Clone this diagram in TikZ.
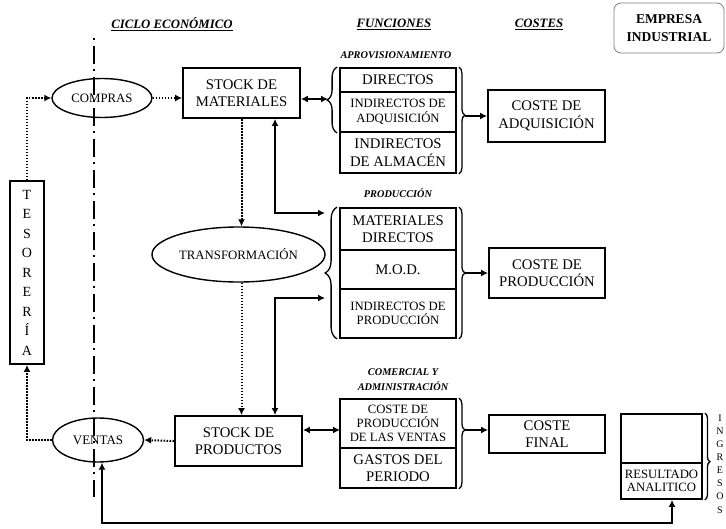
\documentclass[tikz,border=0pt]{standalone}
\usepackage{fontspec}
\setmainfont{Liberation Serif}
\usetikzlibrary{shapes.geometric,arrows.meta,decorations.pathreplacing,calc}
\begin{document}
\begin{tikzpicture}[x=1pt,y=-1pt,
  big/.style={font=\fontsize{14.7}{17.5}\selectfont},
  sml/.style={font=\fontsize{12.7}{14.5}\selectfont},
  bx/.style={draw,line width=1.8pt,align=center,inner sep=1pt},
  col/.style={bx,minimum width=116pt},
  ell/.style={ellipse,draw,line width=1.4pt,inner sep=0pt,font=\fontsize{12.8}{14}\selectfont},
  hd/.style={font=\fontsize{12.8}{14}\selectfont\bfseries\itshape},
  sub/.style={font=\fontsize{10.3}{15}\selectfont\bfseries\itshape,align=center},
  tip/.style={-{Latex[length=7pt,width=7pt]}},
  dtip/.style={{Latex[length=7pt,width=7pt]}-{Latex[length=7pt,width=7pt]}},
  dotl/.style={line width=2pt,dash pattern=on 1.6pt off 1.4pt},
  sol/.style={line width=1.6pt},
  br/.style={decorate,decoration={brace,amplitude=#1},line width=1.3pt},
  br/.default=6pt,
]
\useasboundingbox (0,0) rectangle (726,528);

% headings
\node[hd] (t1) at (172,24) {\underline{CICLO ECONÓMICO}};
\node[hd] (t2) at (394,24) {\underline{FUNCIONES}};
\node[hd] (t3) at (539,24) {\underline{COSTES}};
\node[draw=gray,rounded corners=7pt,line width=0.8pt,minimum width=110pt,minimum height=50pt,
      align=center,font=\fontsize{13.5}{18}\selectfont\bfseries] (emp) at (669,28) {EMPRESA\\INDUSTRIAL};

% axis
\coordinate (axt) at (94,38);
\coordinate (axb) at (94,497);
\draw[line width=1.5pt,dash pattern=on 2pt off 6pt on 18pt off 5pt] (axt) -- (axb);

% cycle
\node[ell,minimum width=100pt,minimum height=39pt] (compras) at (102,98) {COMPRAS};
\node[bx,big,minimum width=117pt,minimum height=50pt] (smat) at (241.5,93) {STOCK DE\\MATERIALES};
\node[bx,minimum width=34pt,minimum height=183pt,font=\fontsize{14}{19.5}\selectfont] (tes) at (27,272.5)
  {T\\E\\S\\O\\R\\E\\R\\Í\\A};
\node[ell,minimum width=173pt,minimum height=55pt] (transf) at (238.5,254.5) {TRANSFORMACIÓN};
\node[ell,minimum width=91pt,minimum height=44pt,font=\fontsize{13}{14}\selectfont] (ventas) at (98,440) {VENTAS};
\node[bx,big,minimum width=127pt,minimum height=50pt] (sprod) at (238.5,441) {STOCK DE\\PRODUCTOS};

% aprovisionamiento
\node[sub] (lap) at (396,55) {APROVISIONAMIENTO};
\node[col,big,minimum height=24pt] (a1) at (398,80) {DIRECTOS};
\node[col,sml,minimum height=40pt] (a2) at (398,112) {INDIRECTOS DE\\ADQUISICIÓN};
\node[col,big,minimum height=41pt] (a3) at (398,152.5) {INDIRECTOS\\DE ALMACÉN};
\draw[br=10pt] ([xshift=-2pt]a2.south west) -- ([xshift=-2pt]a1.north west);
\draw[br=6pt,decoration={aspect=0.45}] ([xshift=2pt]a1.north east) -- ([xshift=2pt]a3.south east);
\coordinate (aL) at (328,99);
\coordinate (aR) at (465,116);
\node[bx,big,minimum width=117pt,minimum height=52pt] (cadq) at (546.5,116) {COSTE DE\\ADQUISICIÓN};

% produccion
\node[sub] (lpr) at (398,193) {PRODUCCIÓN};
\node[col,big,minimum height=42pt] (p1) at (398,229) {MATERIALES\\DIRECTOS};
\node[col,big,minimum height=39pt] (p2) at (398,269.5) {M.O.D.};
\node[col,sml,minimum height=49pt] (p3) at (398,313.5) {INDIRECTOS DE\\PRODUCCIÓN};
\draw[br=12pt] ([xshift=-2pt]p3.south west) -- ([xshift=-2pt]p1.north west);
\draw[br=6pt] ([xshift=2pt]p1.north east) -- ([xshift=2pt]p3.south east);
\coordinate (pa) at (325,213);
\coordinate (pb) at (325,298);
\coordinate (pR) at (465,273);
\node[bx,big,minimum width=116pt,minimum height=50pt] (cprod) at (547,273) {COSTE DE\\PRODUCCIÓN};

% comercial
\node[sub] (lco) at (403,380) {COMERCIAL Y\\ADMINISTRACIÓN};
\node[col,font=\fontsize{12.7}{14}\selectfont,minimum height=49pt] (c1) at (398,423.5) {COSTE DE\\PRODUCCIÓN\\DE LAS VENTAS};
\node[col,big,minimum height=40pt] (c2) at (398,468) {GASTOS DEL\\PERIODO};
\draw[br=6pt,decoration={aspect=0.35}] ([xshift=2pt]c1.north east) -- ([xshift=2pt]c2.south east);
\coordinate (cL) at (340,430);
\coordinate (cR) at (465,430);
\node[bx,big,minimum width=116pt,minimum height=38pt] (cfin) at (547,434) {COSTE\\FINAL};

% resultado
\node[bx,minimum width=81pt,minimum height=49pt] (r1) at (661.5,438.5) {};
\node[bx,font=\fontsize{12.7}{13.5}\selectfont,minimum width=81pt,minimum height=36pt,inner sep=0pt] (r2) at (661.5,481) {RESULTADO\\ANALITICO};
\draw[br=5pt,decoration={aspect=0.56}] ([xshift=2pt]r1.north east) -- ([xshift=2pt]r2.south east);
\node[font=\fontsize{10}{13.1}\selectfont,align=center,inner sep=0pt] (ing) at (720,464) {I\\N\\G\\R\\E\\S\\O\\S};

% dotted connectors
\draw[dotl,tip] (tes.north) |- (compras.west);
\draw[dotl,tip] (compras.east) -- (smat.west |- compras.east);
\draw[dotl,tip] (smat.south) -- (smat.south |- transf.north);
\draw[dotl,tip] (smat.south |- transf.south) -- (smat.south |- sprod.north);
\draw[dotl,tip] (sprod.west) -- (ventas.east);
\draw[dotl,tip] (ventas.west) -| (tes.south);

% solid connectors
\draw[sol,dtip] (smat.east |- aL) -- (aL);
\draw[sol,tip] (aR) -- (aR -| cadq.west);
\coordinate (sm2) at ([xshift=33.5pt]smat.south);
\coordinate (sp2) at ([xshift=36.5pt]sprod.north);
\draw[sol,dtip] (sm2) |- (pa);
\draw[sol,dtip] (pb) -| (sp2);
\draw[sol,tip] (pR) -- (pR -| cprod.west);
\draw[sol,dtip] (cL -| sprod.east) -- (cL);
\draw[sol,tip] (cR) -- (cR -| cfin.west);
\coordinate (bl) at (0,523);
\coordinate (vs) at ([xshift=4pt]ventas.south);
\coordinate (rs) at ([xshift=10.5pt]r2.south);
\draw[sol,dtip] (vs) -- (vs |- bl) -| (rs);
\end{tikzpicture}
\end{document}
